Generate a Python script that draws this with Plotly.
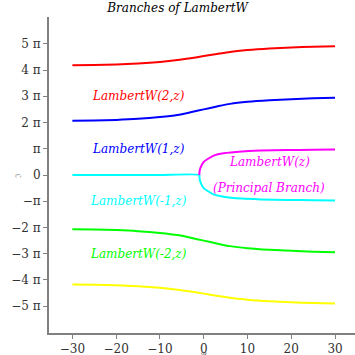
import math
import plotly.graph_objects as go

PI = math.pi

# Branch boundary curves (x = real part, y = imaginary part in multiples of pi)
x_outer = [-30, -25, -20, -15, -10, -6, -3, 0, 3, 6, 10, 15, 20, 25, 30]
red_y = [4.18, 4.19, 4.21, 4.25, 4.31, 4.38, 4.45, 4.53, 4.61, 4.69, 4.76, 4.82, 4.86, 4.89, 4.91]
blue_y = [2.07, 2.08, 2.10, 2.14, 2.21, 2.29, 2.39, 2.50, 2.61, 2.71, 2.79, 2.85, 2.89, 2.92, 2.94]
green_y = [-2.07, -2.08, -2.10, -2.14, -2.21, -2.29, -2.39, -2.50, -2.61, -2.71, -2.79, -2.85, -2.89, -2.92, -2.94]
yellow_y = [-4.17, -4.18, -4.20, -4.24, -4.30, -4.37, -4.44, -4.52, -4.60, -4.68, -4.75, -4.81, -4.85, -4.88, -4.90]

# principal branch (upper) and W(-1) branch (real segment + lower part)
magenta_x = [-1, -0.97, -0.87, -0.61, 0, 1, 2.4, 4.5, 8.7, 13, 19, 25, 30]
magenta_y = [0, 0.10, 0.20, 0.33, 0.50, 0.62, 0.75, 0.83, 0.90, 0.93, 0.95, 0.96, 0.97]
cyan_x = [-30, -20, -10, -1, -0.97, -0.87, -0.61, 0, 1, 2.4, 4.5, 8.7, 13, 19, 25, 30]
cyan_y = [0, 0, 0, 0, -0.10, -0.20, -0.33, -0.50, -0.62, -0.75, -0.83, -0.90, -0.93, -0.95, -0.96, -0.97]

x_ticks = [-30, -20, -10, 0, 10, 20, 30]
x_tick_text = ["\u221230", "\u221220", "\u221210", "0", "10", "20", "30"]
y_ticks_pi = [5, 4, 3, 2, 1, 0, -1, -2, -3, -4, -5]
y_tick_text = ["5 \u03c0", "4 \u03c0", "3 \u03c0", "2 \u03c0", "\u03c0", "0",
               "\u2212\u03c0", "\u22122 \u03c0", "\u22123 \u03c0", "\u22124 \u03c0", "\u22125 \u03c0"]

labels = ["LambertW(2,z)", "LambertW(1,z)", "LambertW(-1,z)", "LambertW(-2,z)",
          "LambertW(z)", "(Principal Branch)"]
label_x = [-15, -15, -15, -15, 15, 15]
label_y_pi = [3, 1, -1, -3, 0.5, -0.5]
label_colors = ["#ff0000", "#0000ff", "#00ffff", "#00ff00", "#ff00ff", "#ff00ff"]

SERIF = "DejaVu Serif"

fig = go.Figure()
def add(xs, ys_pi, color):
    fig.add_trace(go.Scatter(x=xs, y=[v * PI for v in ys_pi], mode="lines",
                             line=dict(color=color, width=2, shape="spline", smoothing=0.6),
                             showlegend=False, hoverinfo="skip"))

add(x_outer, red_y, "#ff0000")
add(x_outer, blue_y, "#0000ff")
add(cyan_x, cyan_y, "#00ffff")
add(magenta_x, magenta_y, "#ff00ff")
add(x_outer, green_y, "#00ff00")
add(x_outer, yellow_y, "#ffff00")

for t, lx, ly, c in zip(labels, label_x, label_y_pi, label_colors):
    fig.add_annotation(x=lx, y=ly * PI, text=t, showarrow=False,
                       font=dict(family=SERIF, size=12, color=c, style="italic"))

fig.add_annotation(x=0, xref="x", y=0, yref="paper", yanchor="top", yshift=-16,
                   text="\u211c", showarrow=False,
                   font=dict(family=SERIF, size=7, color="#555"))
fig.add_annotation(x=0, xref="paper", xshift=-38, y=0, yref="y",
                   text="\u2111", showarrow=False, textangle=-90,
                   font=dict(family=SERIF, size=8, color="#999"))

axis_common = dict(showline=True, linecolor="#808080", linewidth=2, ticks="outside",
                   ticklen=4, tickwidth=1, tickcolor="#808080", showgrid=False,
                   zeroline=False, tickfont=dict(family=SERIF, size=12, color="#333"))

fig.update_layout(
    width=355, height=355,
    margin=dict(l=49, r=0, t=17, b=22),
    paper_bgcolor="white", plot_bgcolor="white",
    title=dict(text="Branches of LambertW", x=0.5, xref="container", y=0.977, yanchor="middle",
               font=dict(family=SERIF, size=12, color="#000", style="italic")),
    xaxis=dict(range=[-35.34, 34.56], tickvals=x_ticks, ticktext=x_tick_text, **axis_common),
    yaxis=dict(range=[-6.02 * PI, 6.02 * PI], tickvals=[v * PI for v in y_ticks_pi],
               ticktext=y_tick_text, **axis_common),
)

fig.write_html("out.html", config={"displayModeBar": False},
               post_script="document.body.style.margin='0';document.body.style.overflow='hidden';")
